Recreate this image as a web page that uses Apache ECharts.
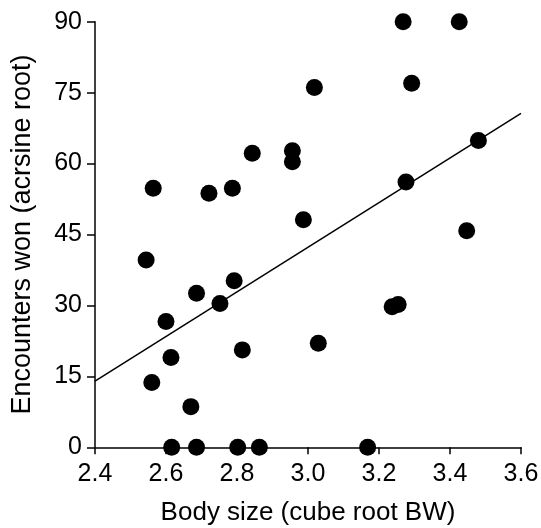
<!DOCTYPE html>
<html>
<head>
<meta charset="utf-8">
<script src="https://cdn.jsdelivr.net/npm/echarts@6/dist/echarts.min.js"></script>
<style>html,body{margin:0;padding:0;background:#fff;}#c{width:541px;height:528px;}</style>
</head>
<body>
<div id="c"></div>
<script>
var bodySize = [2.544, 2.564, 2.560, 2.600, 2.614, 2.670, 2.686, 2.721, 2.752, 2.787, 2.792, 2.815, 2.843, 2.956, 2.956, 2.987, 3.018, 3.029, 3.237, 3.254, 3.268, 3.276, 3.292, 3.426, 3.447, 3.480, 2.616, 2.686, 2.802, 2.863, 3.168];
var encountersWon = [39.6, 54.8, 13.7, 26.6, 19.0, 8.6, 32.6, 53.7, 30.4, 54.8, 35.2, 20.6, 62.2, 62.7, 60.4, 48.1, 76.1, 22.0, 29.7, 30.2, 90, 56.1, 77.0, 90, 45.8, 64.9, 0, 0, 0, 0, 0];
var fitX = [2.4, 3.6];
var fitY = [14.0, 70.6];

var pts = bodySize.map(function (x, i) { return [x, encountersWon[i]]; });
var fit = fitX.map(function (x, i) { return [x, fitY[i]]; });
var font = 'Liberation Sans, Arial, sans-serif';

var chart = echarts.init(document.getElementById('c'));
chart.setOption({
  backgroundColor: '#fff',
  animation: false,
  grid: { left: 95, right: 20, top: 21.7, bottom: 80.7, containLabel: false, outerBoundsMode: 'none' },
  xAxis: {
    type: 'value', min: 2.4, max: 3.6, interval: 0.2,
    name: 'Body size (cube root BW)', nameLocation: 'middle', nameGap: 53,
    nameTextStyle: { fontFamily: font, fontSize: 26, color: '#000' },
    axisLine: { onZero: false, lineStyle: { color: '#000', width: 1.5 } },
    axisTick: { show: true, inside: false, length: 7, lineStyle: { color: '#000', width: 1.5 } },
    axisLabel: { fontFamily: font, fontSize: 25, color: '#000', margin: 14,
      formatter: function (v) { return v.toFixed(1); } },
    splitLine: { show: false }
  },
  yAxis: {
    type: 'value', min: 0, max: 90, interval: 15,
    name: 'Encounters won (acrsine root)', nameLocation: 'middle', nameGap: 59,
    nameTextStyle: { fontFamily: font, fontSize: 27, color: '#000' },
    axisLine: { show: true, onZero: false, lineStyle: { color: '#000', width: 1.5 } },
    axisTick: { show: true, length: 8, lineStyle: { color: '#000', width: 1.5 } },
    axisLabel: { fontFamily: font, fontSize: 25, color: '#000', margin: 13 },
    splitLine: { show: false }
  },
  series: [
    { type: 'line', data: fit, symbol: 'none', lineStyle: { color: '#000', width: 1.5 }, silent: true },
    { type: 'scatter', data: pts, symbol: 'circle', symbolSize: 17, clip: false,
      itemStyle: { color: '#000', opacity: 1 } }
  ]
});
</script>
</body>
</html>
